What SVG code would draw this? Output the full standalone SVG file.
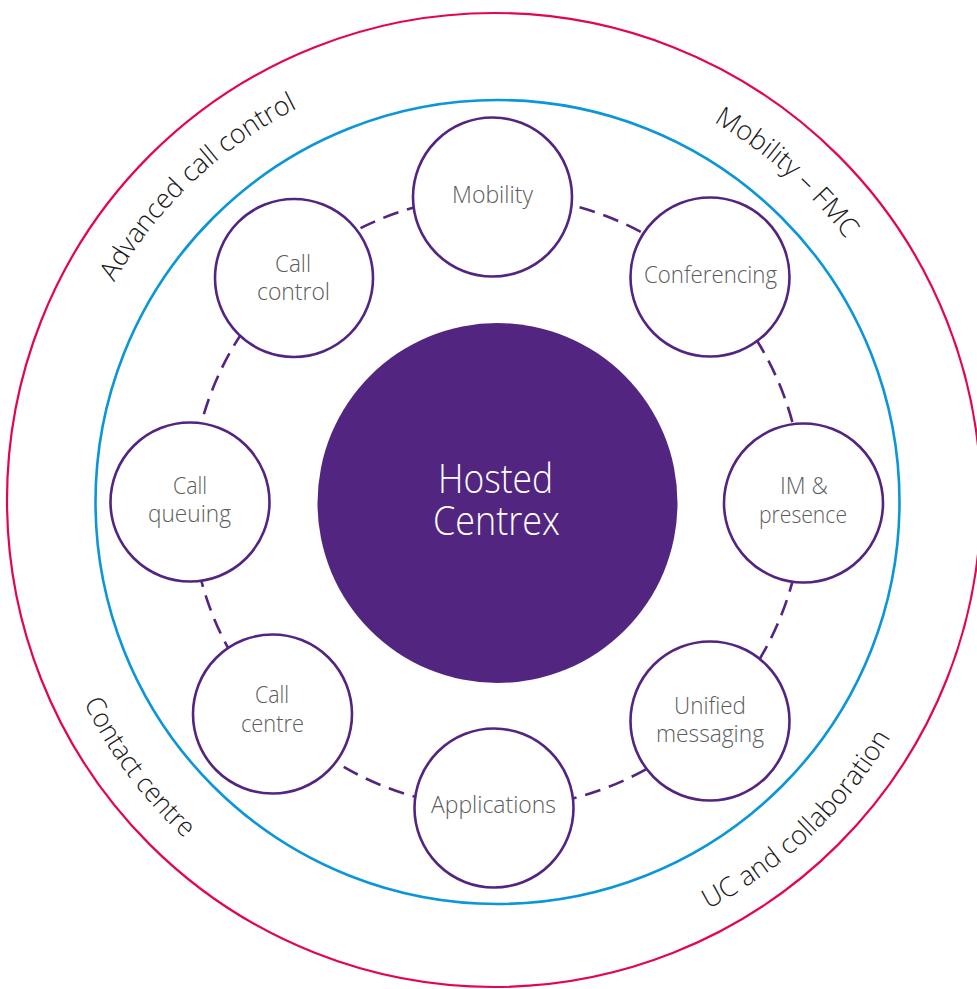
<svg xmlns="http://www.w3.org/2000/svg" width="977" height="989" viewBox="0 0 977 989">
<style>
.ring-red{fill:none;stroke:#e3064b;stroke-width:2.2}
.ring-blue{fill:none;stroke:#0a96d8;stroke-width:2.6}
.node{fill:#fff;stroke:#532480;stroke-width:2.6}
.hub{fill:#522680}
.lbl{font-family:"Open Sans","Lato",sans-serif;font-weight:300;font-size:23px;fill:#5c5c5c;text-anchor:middle}
.hubt{font-family:"Open Sans","Lato",sans-serif;font-weight:300;font-size:41px;fill:#fff;text-anchor:middle}
.arc{font-family:"Open Sans","Lato",sans-serif;font-weight:300;font-size:27px;fill:#1a1a1a}
.dash{fill:none;stroke:#532480;stroke-width:2.6;stroke-dasharray:16 9}
</style>
<defs>
<path id="pTL" d="M 56 501 a 440 440 0 0 1 440 -440" transform="rotate(1.5 496 501)"/>
<path id="pTR" d="M 496 64 a 437 437 0 0 1 437 437" transform="rotate(-3.5 496 501)"/>
<path id="pBL" d="M 37 501 a 459 459 0 0 0 459 459" transform="rotate(8.3 496 501)"/>
<path id="pBR" d="M 496 961 a 460 460 0 0 0 460 -460" transform="rotate(1.7 496 501)"/>
</defs>
<g id="rings">
<circle class="ring-red" cx="494" cy="500" r="487"/>
<circle class="ring-blue" cx="497.5" cy="502" r="402"/>
</g>
<g id="connectors">
<circle class="dash" cx="497" cy="502" r="306"/>
</g>
<g id="hub">
<circle class="hub" cx="497.5" cy="503" r="180"/>
<text class="hubt" x="495.5" y="493" textLength="115" lengthAdjust="spacingAndGlyphs">Hosted</text>
<text class="hubt" x="496.5" y="535" textLength="127" lengthAdjust="spacingAndGlyphs">Centrex</text>
</g>
<g id="node-mobility">
<circle class="node" cx="492.5" cy="197" r="79.5"/>
<text class="lbl" x="492.5" y="203" textLength="81" lengthAdjust="spacingAndGlyphs">Mobility</text>
</g>
<g id="node-conferencing">
<circle class="node" cx="710" cy="277" r="79.5"/>
<text class="lbl" x="710.5" y="283" textLength="133" lengthAdjust="spacingAndGlyphs">Conferencing</text>
</g>
<g id="node-im">
<circle class="node" cx="803.5" cy="503" r="79.5"/>
<text class="lbl" x="804" y="494" textLength="48" lengthAdjust="spacingAndGlyphs">IM &amp;</text>
<text class="lbl" x="803" y="523" textLength="88" lengthAdjust="spacingAndGlyphs">presence</text>
</g>
<g id="node-unified">
<circle class="node" cx="710" cy="721" r="79.5"/>
<text class="lbl" x="710" y="714" textLength="72" lengthAdjust="spacingAndGlyphs">Unified</text>
<text class="lbl" x="710" y="742" textLength="108" lengthAdjust="spacingAndGlyphs">messaging</text>
</g>
<g id="node-applications">
<circle class="node" cx="494" cy="808" r="79.5"/>
<text class="lbl" x="493.5" y="813" textLength="125" lengthAdjust="spacingAndGlyphs">Applications</text>
</g>
<g id="node-callcentre">
<circle class="node" cx="272.5" cy="714" r="79.5"/>
<text class="lbl" x="272" y="703" textLength="34" lengthAdjust="spacingAndGlyphs">Call</text>
<text class="lbl" x="272.5" y="732" textLength="63" lengthAdjust="spacingAndGlyphs">centre</text>
</g>
<g id="node-callqueuing">
<circle class="node" cx="190" cy="502" r="79.5"/>
<text class="lbl" x="190" y="494" textLength="34" lengthAdjust="spacingAndGlyphs">Call</text>
<text class="lbl" x="189.5" y="522" textLength="83" lengthAdjust="spacingAndGlyphs">queuing</text>
</g>
<g id="node-callcontrol">
<circle class="node" cx="294" cy="278" r="79"/>
<text class="lbl" x="293" y="272" textLength="36" lengthAdjust="spacingAndGlyphs">Call</text>
<text class="lbl" x="293.5" y="300" textLength="73" lengthAdjust="spacingAndGlyphs">control</text>
</g>
<g id="ring-labels">
<text class="arc"><textPath href="#pTL" startOffset="50%" text-anchor="middle" textLength="256" lengthAdjust="spacingAndGlyphs">Advanced call control</textPath></text>
<text class="arc"><textPath href="#pTR" startOffset="50%" text-anchor="middle" textLength="178" lengthAdjust="spacingAndGlyphs">Mobility – FMC</textPath></text>
<text class="arc"><textPath href="#pBL" startOffset="50%" text-anchor="middle" textLength="170" lengthAdjust="spacingAndGlyphs">Contact centre</textPath></text>
<text class="arc"><textPath href="#pBR" startOffset="50%" text-anchor="middle" textLength="254" lengthAdjust="spacingAndGlyphs">UC and collaboration</textPath></text>
</g>
</svg>
